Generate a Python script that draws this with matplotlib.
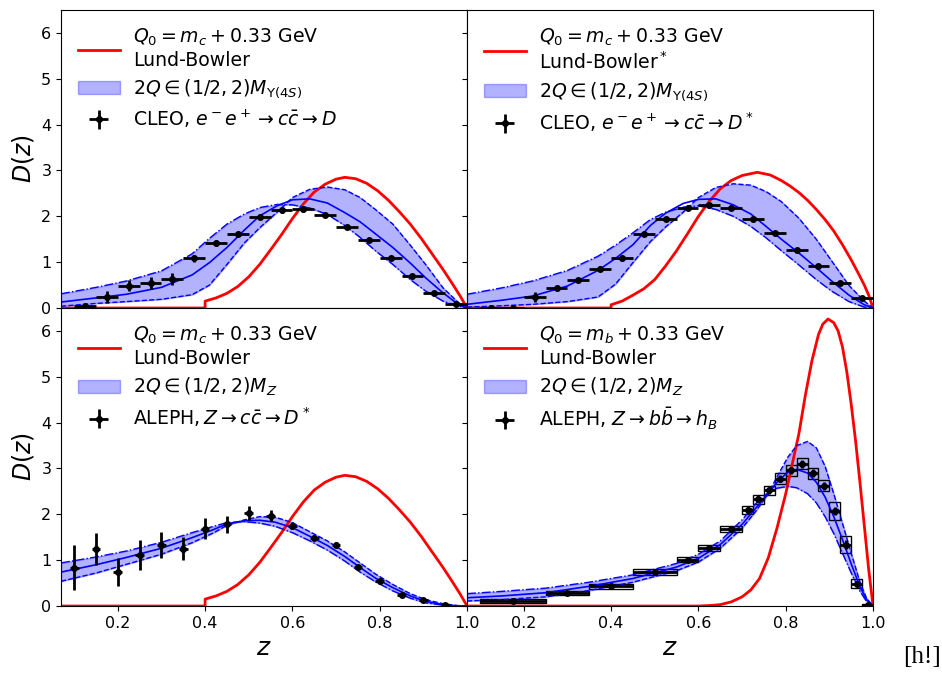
import numpy as np
import matplotlib.pyplot as plt
from matplotlib.patches import Rectangle

# Lund-Bowler curves (red)
lb_c_z = [0.07, 0.40, 0.40, 0.425, 0.45, 0.475, 0.50, 0.525, 0.55, 0.575, 0.60, 0.625, 0.65, 0.675, 0.70,
          0.72, 0.745, 0.77, 0.795, 0.82, 0.845, 0.87, 0.895, 0.92, 0.945, 0.965, 0.985, 1.00]
lb_c_d = [0.0, 0.0, 0.15, 0.22, 0.32, 0.47, 0.68, 0.95, 1.27, 1.60, 1.95, 2.27, 2.53, 2.70, 2.81,
          2.85, 2.82, 2.72, 2.56, 2.35, 2.10, 1.83, 1.52, 1.18, 0.84, 0.55, 0.25, 0.0]

lb_cs_z = [0.07, 0.40, 0.40, 0.425, 0.45, 0.475, 0.50, 0.525, 0.55, 0.575, 0.60, 0.625, 0.65, 0.675, 0.70,
           0.735, 0.765, 0.79, 0.81, 0.83, 0.85, 0.87, 0.89, 0.91, 0.93, 0.95, 0.965, 0.98, 0.99, 1.00]
lb_cs_d = [0.0, 0.0, 0.07, 0.15, 0.28, 0.42, 0.62, 0.92, 1.25, 1.62, 2.00, 2.33, 2.60, 2.78, 2.89,
           2.96, 2.90, 2.78, 2.66, 2.52, 2.35, 2.15, 1.93, 1.68, 1.38, 1.05, 0.78, 0.50, 0.28, 0.0]

lb_b_z = [0.07, 0.60, 0.625, 0.65, 0.675, 0.70, 0.72, 0.74, 0.76, 0.78, 0.80, 0.815, 0.83, 0.845, 0.86,
          0.875, 0.885, 0.897, 0.91, 0.92, 0.93, 0.94, 0.95, 0.96, 0.97, 0.98, 0.99, 1.00]
lb_b_d = [0.0, 0.0, 0.01, 0.03, 0.09, 0.20, 0.35, 0.60, 1.05, 1.70, 2.45, 3.10, 3.75, 4.60, 5.35,
          5.92, 6.15, 6.26, 6.18, 6.00, 5.65, 5.10, 4.40, 3.60, 2.70, 1.75, 0.80, 0.0]

# scale-variation bands (blue): dash-dot edge, dashed edge, central line
band_c_z = [0.07, 0.15, 0.22, 0.30, 0.37, 0.41, 0.45, 0.49, 0.525, 0.565, 0.60, 0.64, 0.68, 0.72, 0.755, 0.79, 0.83, 0.87, 0.905, 0.945, 0.98, 1.0]
cleo_d_dd = [0.31, 0.45, 0.59, 0.81, 1.18, 1.52, 1.83, 2.05, 2.19, 2.26, 2.25, 2.18, 2.04, 1.80, 1.54, 1.25, 0.95, 0.62, 0.37, 0.15, 0.04, 0.0]
cleo_d_da = [0.04, 0.10, 0.14, 0.19, 0.29, 0.50, 0.95, 1.42, 1.75, 2.09, 2.41, 2.59, 2.64, 2.58, 2.41, 2.15, 1.83, 1.37, 0.95, 0.44, 0.12, 0.0]
cleo_d_ce = [0.13, 0.22, 0.30, 0.45, 0.72, 0.99, 1.32, 1.70, 2.01, 2.23, 2.36, 2.38, 2.29, 2.08, 1.88, 1.62, 1.32, 0.98, 0.66, 0.33, 0.08, 0.0]

cleo_ds_dd = [0.30, 0.44, 0.59, 0.82, 1.13, 1.37, 1.64, 1.93, 2.09, 2.20, 2.23, 2.15, 2.00, 1.78, 1.53, 1.25, 0.94, 0.62, 0.37, 0.14, 0.02, 0.0]
cleo_ds_da = [0.02, 0.05, 0.08, 0.14, 0.24, 0.52, 0.99, 1.45, 1.77, 2.09, 2.41, 2.63, 2.71, 2.68, 2.54, 2.32, 1.96, 1.50, 1.03, 0.49, 0.15, 0.0]
cleo_ds_ce = [0.08, 0.17, 0.26, 0.48, 0.82, 1.08, 1.38, 1.80, 2.07, 2.28, 2.37, 2.38, 2.25, 2.05, 1.78, 1.50, 1.20, 0.88, 0.59, 0.28, 0.07, 0.0]

band_a_z = [0.07, 0.15, 0.22, 0.30, 0.37, 0.42, 0.45, 0.49, 0.525, 0.56, 0.60, 0.64, 0.68, 0.72, 0.755, 0.79, 0.83, 0.87, 0.905, 0.945, 0.98, 1.0]
aleph_ds_dd = [0.94, 1.07, 1.20, 1.39, 1.60, 1.74, 1.82, 1.84, 1.81, 1.74, 1.60, 1.42, 1.22, 0.98, 0.74, 0.53, 0.33, 0.17, 0.07, 0.02, 0.0, 0.0]
aleph_ds_da = [0.54, 0.72, 0.91, 1.13, 1.38, 1.60, 1.76, 1.88, 1.95, 1.94, 1.82, 1.62, 1.42, 1.18, 0.94, 0.70, 0.47, 0.27, 0.14, 0.05, 0.01, 0.0]
aleph_ds_ce = [0.74, 0.90, 1.06, 1.26, 1.49, 1.67, 1.79, 1.86, 1.87, 1.83, 1.71, 1.52, 1.32, 1.08, 0.84, 0.61, 0.40, 0.22, 0.10, 0.03, 0.0, 0.0]

band_b_z = [0.07, 0.15, 0.25, 0.35, 0.45, 0.55, 0.60, 0.65, 0.70, 0.73, 0.76, 0.78, 0.805, 0.825, 0.85, 0.87, 0.89, 0.91, 0.93, 0.95, 0.97, 0.985, 1.0]
aleph_b_dd = [0.27, 0.32, 0.39, 0.52, 0.68, 0.93, 1.13, 1.42, 1.88, 2.22, 2.48, 2.57, 2.61, 2.58, 2.45, 2.25, 1.95, 1.58, 1.15, 0.72, 0.32, 0.10, 0.0]
aleph_b_da = [0.11, 0.14, 0.20, 0.34, 0.52, 0.77, 0.96, 1.26, 1.70, 2.05, 2.45, 2.82, 3.25, 3.50, 3.59, 3.45, 3.05, 2.45, 1.80, 1.15, 0.52, 0.17, 0.0]
aleph_b_ce = [0.18, 0.22, 0.29, 0.43, 0.60, 0.85, 1.04, 1.34, 1.78, 2.12, 2.45, 2.70, 2.92, 2.98, 2.90, 2.70, 2.38, 1.95, 1.45, 0.92, 0.42, 0.14, 0.0]

# data points
cleo_z = [0.125, 0.175, 0.225, 0.275, 0.325, 0.375, 0.425, 0.475, 0.525, 0.575, 0.625, 0.675, 0.725, 0.775, 0.825, 0.875, 0.925, 0.975]
cleo_d = [0.04, 0.24, 0.49, 0.55, 0.64, 1.08, 1.42, 1.62, 1.99, 2.13, 2.15, 2.03, 1.77, 1.48, 1.09, 0.70, 0.33, 0.09]
cleo_d_err = [0.05, 0.12, 0.13, 0.13, 0.13, 0.08, 0.06, 0.05, 0.05, 0.05, 0.05, 0.05, 0.05, 0.05, 0.05, 0.04, 0.04, 0.03]
cleo_ds = [0.0, 0.0, 0.24, 0.44, 0.60, 0.86, 1.08, 1.61, 1.94, 2.18, 2.25, 2.19, 1.95, 1.63, 1.26, 0.92, 0.55, 0.21]
cleo_ds_err = [0.03, 0.05, 0.11, 0.07, 0.06, 0.06, 0.05, 0.05, 0.05, 0.05, 0.05, 0.05, 0.05, 0.05, 0.05, 0.04, 0.04, 0.03]

aleph_ds_z = [0.10, 0.15, 0.20, 0.25, 0.30, 0.35, 0.40, 0.45, 0.50, 0.55, 0.60, 0.65, 0.70, 0.75, 0.80, 0.85, 0.90, 0.95]
aleph_ds = [0.83, 1.25, 0.74, 1.12, 1.33, 1.25, 1.69, 1.78, 2.03, 1.97, 1.75, 1.49, 1.34, 0.85, 0.54, 0.24, 0.13, 0.02]
aleph_ds_err = [0.49, 0.35, 0.31, 0.33, 0.28, 0.25, 0.22, 0.19, 0.16, 0.12, 0.08, 0.06, 0.05, 0.04, 0.04, 0.03, 0.03, 0.02]

aleph_b_lo = [0.10, 0.25, 0.35, 0.45, 0.55, 0.60, 0.65, 0.700, 0.725, 0.750, 0.775, 0.800, 0.825, 0.850, 0.875, 0.900, 0.925, 0.950, 0.975]
aleph_b_hi = [0.25, 0.35, 0.45, 0.55, 0.60, 0.65, 0.70, 0.725, 0.750, 0.775, 0.800, 0.825, 0.850, 0.875, 0.900, 0.925, 0.950, 0.975, 1.000]
aleph_b = [0.11, 0.28, 0.43, 0.74, 1.01, 1.27, 1.69, 2.10, 2.33, 2.52, 2.78, 2.96, 3.10, 2.90, 2.62, 2.07, 1.34, 0.49, 0.02]
aleph_b_stat = [0.02, 0.02, 0.02, 0.03, 0.03, 0.04, 0.05, 0.06, 0.07, 0.07, 0.08, 0.08, 0.08, 0.08, 0.08, 0.09, 0.09, 0.06, 0.02]
aleph_b_sys = [0.04, 0.05, 0.05, 0.06, 0.06, 0.06, 0.065, 0.09, 0.10, 0.10, 0.12, 0.12, 0.12, 0.12, 0.12, 0.19, 0.18, 0.10, 0.03]


def draw_panel(ax, lb_z, lb_d, q0_label, lb_name, bz, dd, da, ce, band_label):
    ax.plot(lb_z, lb_d, color="red", linewidth=2, label=q0_label + "\n" + lb_name)
    ax.fill_between(bz, dd, da, color="blue", alpha=0.3, label=band_label)
    ax.plot(bz, dd, color="blue", linestyle="-.", linewidth=1)
    ax.plot(bz, da, color="blue", linestyle="--", linewidth=1)
    ax.plot(bz, ce, color="blue", linestyle="-", linewidth=1.2)


fig, axes = plt.subplots(2, 2, sharex=True, sharey=True, figsize=(9.42, 6.75), dpi=100)
plt.subplots_adjust(left=0.0648, right=0.9268, top=0.9852, bottom=0.1022, hspace=0, wspace=0)

q0c = r"$Q_0 = m_c + 0.33$ GeV"
q0b = r"$Q_0 = m_b + 0.33$ GeV"

# Top left: CLEO D
ax = axes[0, 0]
draw_panel(ax, lb_c_z, lb_c_d, q0c, "Lund-Bowler", band_c_z, cleo_d_dd, cleo_d_da, cleo_d_ce,
           r"$2Q \in (1/2, 2)M_{\Upsilon(4S)}$")
ax.errorbar(cleo_z, cleo_d, xerr=0.025, yerr=cleo_d_err, fmt="o", color="k", ms=4,
            elinewidth=2, capsize=0, label=r"CLEO, $e^-e^+ \to c\bar{c} \to D$")

# Top right: CLEO D*
ax = axes[0, 1]
draw_panel(ax, lb_cs_z, lb_cs_d, q0c, r"Lund-Bowler$^*$", band_c_z, cleo_ds_dd, cleo_ds_da, cleo_ds_ce,
           r"$2Q \in (1/2, 2)M_{\Upsilon(4S)}$")
ax.errorbar(cleo_z, cleo_ds, xerr=0.025, yerr=cleo_ds_err, fmt="o", color="k", ms=4,
            elinewidth=2, capsize=0, label=r"CLEO, $e^-e^+ \to c\bar{c} \to D^*$")

# Bottom left: ALEPH D*
ax = axes[1, 0]
draw_panel(ax, lb_c_z, lb_c_d, q0c, "Lund-Bowler", band_a_z, aleph_ds_dd, aleph_ds_da, aleph_ds_ce,
           r"$2Q \in (1/2, 2)M_Z$")
ax.errorbar(aleph_ds_z, aleph_ds, xerr=0.01, yerr=aleph_ds_err, fmt="o", color="k", ms=4,
            elinewidth=2, capsize=0, label=r"$\mathrm{ALEPH}, Z \to c\bar{c} \to D^*$")

# Bottom right: ALEPH b -> h_B
ax = axes[1, 1]
draw_panel(ax, lb_b_z, lb_b_d, q0b, "Lund-Bowler", band_b_z, aleph_b_dd, aleph_b_da, aleph_b_ce,
           r"$2Q \in (1/2, 2)M_Z$")
b_lo = np.array(aleph_b_lo)
b_hi = np.array(aleph_b_hi)
b_mid = (b_lo + b_hi) / 2
for lo, hi, d, s in zip(b_lo, b_hi, aleph_b, aleph_b_sys):
    ax.add_patch(Rectangle((lo, d - s), hi - lo, 2 * s, fill=False, edgecolor="k", linewidth=1))
ax.errorbar(b_mid, aleph_b, xerr=(b_hi - b_lo) / 2, yerr=aleph_b_stat, fmt="o", color="k", ms=4,
            elinewidth=2, capsize=0, label=r"ALEPH, $Z \to b\bar{b} \to h_B$")

for ax in axes.flat:
    ax.set_xlim(0.07, 1.0)
    ax.set_ylim(0, 6.5)
    ax.set_xticks([0.2, 0.4, 0.6, 0.8, 1.0])
    ax.set_yticks([0, 1, 2, 3, 4, 5, 6])
    ax.tick_params(labelsize=11.5)
    ax.legend(loc="upper left", frameon=False, fontsize=13.6, handlelength=2.2,
              handletextpad=0.7, labelspacing=0.4)

for ax in axes[:, 0]:
    ax.set_ylabel(r"$D(z)$", fontsize=17)
for ax in axes[1, :]:
    ax.set_xlabel(r"$z$", fontsize=18)

fig.text(0.979, 0.026, "[h!]", ha="center", va="center", fontsize=18, family="Liberation Serif")

plt.savefig("out.png", dpi=100)
